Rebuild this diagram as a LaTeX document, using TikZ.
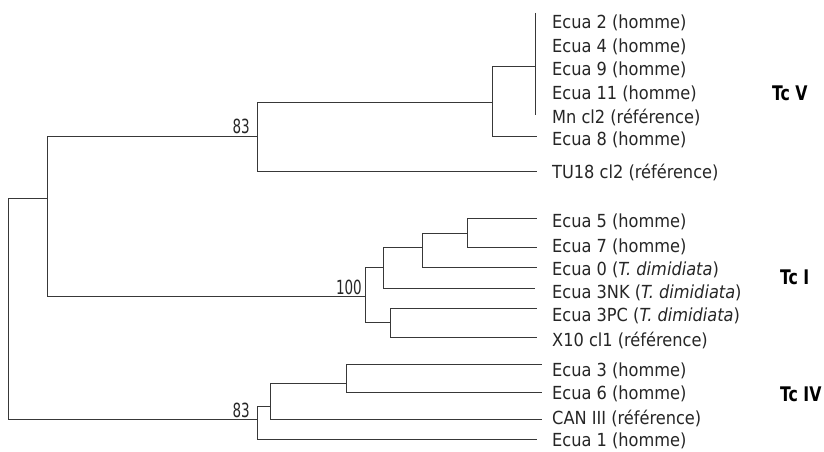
\documentclass[tikz,border=0pt]{standalone}
\usepackage{graphicx}
\usepackage{fontspec}
\setmainfont{DejaVu Sans Condensed}
\begin{document}
\begin{tikzpicture}[x=1pt,y=-1pt,
  br/.style={line width=1pt,draw=black!78},
  leaf/.style={anchor=west,inner sep=0pt,text=black!85,font=\fontsize{18}{20}\selectfont},
  boot/.style={anchor=east,inner sep=0pt,text=black!85,font=\fontsize{15}{16}\selectfont},
  clade/.style={anchor=west,inner sep=0pt,text=black,font=\bfseries\fontsize{17.5}{20}\selectfont}]
\useasboundingbox[fill=white] (0,0) rectangle (824,452);

% internal nodes (x of the bar, y of the incoming branch)
\coordinate (R) at (8.5,300);
\coordinate (A) at (47,198);
\coordinate (B) at (257,136);
\coordinate (C) at (492,102);
\coordinate (D) at (535,67);
\coordinate (Dt) at (535,13);
\coordinate (Db) at (535,115);
\coordinate (E) at (365,296);
\coordinate (F) at (383,267);
\coordinate (G) at (422,247);
\coordinate (H) at (467,233);
\coordinate (I) at (390,322);
\coordinate (J) at (257,419);
\coordinate (K) at (270,406);
\coordinate (L) at (346,383);

% branch tips
\coordinate (p8) at (537,136);
\coordinate (pTU) at (537,171);
\coordinate (p5) at (537,218);
\coordinate (p7) at (537,247);
\coordinate (p0) at (537,267);
\coordinate (pNK) at (535,288);
\coordinate (pPC) at (537,308);
\coordinate (pX) at (537,337);
\coordinate (p3) at (542,364);
\coordinate (p6) at (542,392);
\coordinate (pCAN) at (542,419);
\coordinate (p1) at (537,439);

% branches
\draw[br] (R) |- (A);
\draw[br] (R) |- (J);
\draw[br] (A) |- (B);
\draw[br] (A) |- (E);
\draw[br] (B) |- (C);
\draw[br] (B) |- (pTU);
\draw[br] (C) |- (D);
\draw[br] (C) |- (p8);
\draw[br] (Dt) -- (Db);
\draw[br] (E) |- (F);
\draw[br] (E) |- (I);
\draw[br] (F) |- (G);
\draw[br] (F) |- (pNK);
\draw[br] (G) |- (H);
\draw[br] (G) |- (p0);
\draw[br] (H) |- (p5);
\draw[br] (H) |- (p7);
\draw[br] (I) |- (pPC);
\draw[br] (I) |- (pX);
\draw[br] (J) |- (K);
\draw[br] (J) |- (p1);
\draw[br] (K) |- (L);
\draw[br] (K) |- (pCAN);
\draw[br] (L) |- (p3);
\draw[br] (L) |- (p6);

% bootstrap values
\node[boot] (b1) at (250,126) {\scalebox{1}[1.3]{83}};
\node[boot] (b2) at (362,287) {\scalebox{1}[1.3]{100}};
\node[boot] (b3) at (250,410) {\scalebox{1}[1.3]{83}};

% leaf labels
\node[leaf] (t2) at (552,23) {Ecua 2 (homme)};
\node[leaf] (t4) at (552,47) {Ecua 4 (homme)};
\node[leaf] (t9) at (552,70) {Ecua 9 (homme)};
\node[leaf] (t11) at (552,94) {Ecua 11 (homme)};
\node[leaf] (tMn) at (552,117) {Mn cl2 (référence)};
\node[leaf] (t8) at (552,140) {Ecua 8 (homme)};
\node[leaf] (tTU) at (552,172) {TU18 cl2 (référence)};
\node[leaf] (t5) at (552,222) {Ecua 5 (homme)};
\node[leaf] (t7) at (552,247) {Ecua 7 (homme)};
\node[leaf] (t0) at (552,270) {Ecua 0 (\textit{T. dimidiata})};
\node[leaf] (tNK) at (552,293) {Ecua 3NK (\textit{T. dimidiata})};
\node[leaf] (tPC) at (552,316) {Ecua 3PC (\textit{T. dimidiata})};
\node[leaf] (tX) at (552,340) {X10 cl1 (référence)};
\node[leaf] (t3) at (552,371) {Ecua 3 (homme)};
\node[leaf] (t6) at (552,394) {Ecua 6 (homme)};
\node[leaf] (tCAN) at (552,418) {CAN III (référence)};
\node[leaf] (t1) at (552,441) {Ecua 1 (homme)};

% clade labels
\node[clade] (cV) at (772,93) {\scalebox{1}[1.15]{Tc V}};
\node[clade] (cI) at (780,277) {\scalebox{1}[1.15]{Tc I}};
\node[clade] (cIV) at (780,394) {\scalebox{1}[1.15]{Tc IV}};
\end{tikzpicture}
\end{document}
